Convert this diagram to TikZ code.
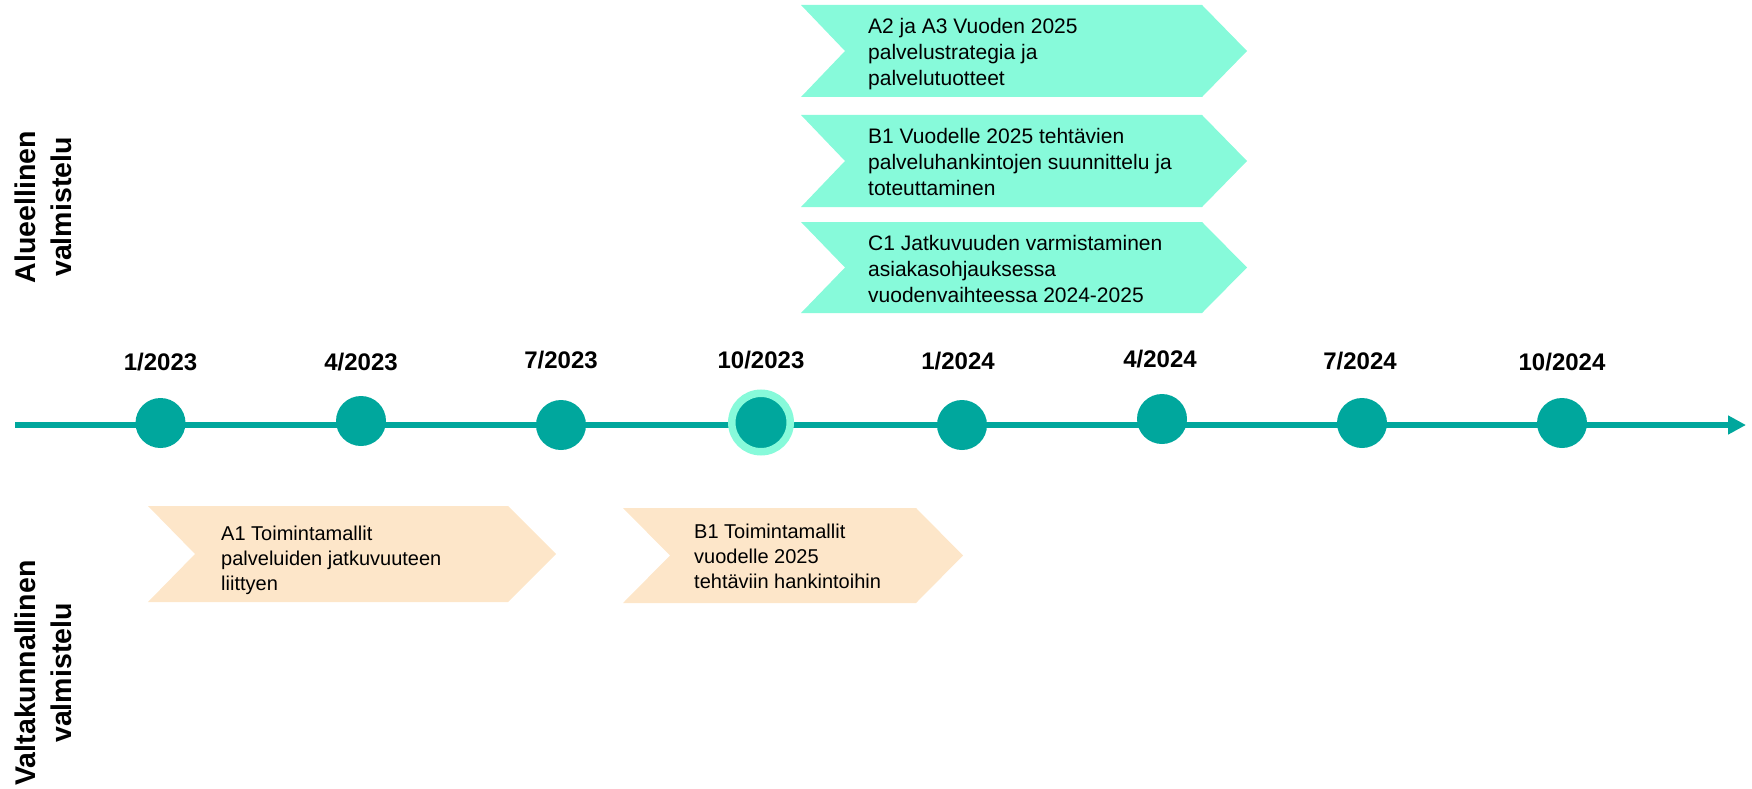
\documentclass[tikz,border=0pt]{standalone}
\usepackage{fontspec}
\setmainfont{Liberation Sans}
\usetikzlibrary{arrows.meta}
\definecolor{tlTeal}{RGB}{0,167,157}
\definecolor{tlMint}{RGB}{135,250,218}
\definecolor{tlPeach}{RGB}{253,230,201}
\newcommand\txtlines[1]{\parbox[t]{420pt}{\raggedright #1}}
\tikzset{
  timeline/.style={draw=tlTeal, line width=6pt, -{Triangle[length=18pt,width=18pt]}},
  dot/.style={circle, fill=tlTeal, minimum size=50pt, inner sep=0pt},
  ringdot/.style={circle, fill=tlTeal, draw=tlMint, line width=7.5pt, minimum size=58.5pt, inner sep=0pt},
  date/.style={font=\bfseries\fontsize{24}{28}\selectfont, anchor=base, inner sep=0pt},
  sidelabel/.style={font=\bfseries\fontsize{28.5}{36}\selectfont, rotate=90, align=center, inner sep=0pt, anchor=center},
  mintchev/.style={fill=tlMint},
  peachchev/.style={fill=tlPeach},
  toptext/.style={font=\fontsize{21}{26}\selectfont, anchor=base west, inner sep=0pt},
  bottext/.style={font=\fontsize{20}{25}\selectfont, anchor=base west, inner sep=0pt},
}
\begin{document}
\begin{tikzpicture}[x=1pt, y=-1pt]
\useasboundingbox (0,0) rectangle (1752,789);

% side labels
\node[sidelabel] (alue) at (43,207) {Alueellinen\\valmistelu};
\node[sidelabel] (valta) at (43,673) {Valtakunnallinen\\valmistelu};

% top chevrons (mint)
\fill[mintchev] (801,5) -- (1202,5) -- (1247,51) -- (1202,97) -- (801,97) -- (845,51) -- cycle;
\fill[mintchev] (801,115) -- (1202,115) -- (1247,161) -- (1202,207) -- (801,207) -- (845,161) -- cycle;
\fill[mintchev] (801,222) -- (1202,222) -- (1247,267.5) -- (1202,313) -- (801,313) -- (845,267.5) -- cycle;
\node[toptext] (t1) at (868,33.5) {\txtlines{A2 ja A3 Vuoden 2025\\palvelustrategia ja\\palvelutuotteet}};
\node[toptext] (t2) at (868,143) {\txtlines{B1 Vuodelle 2025 tehtävien\\palveluhankintojen suunnittelu ja\\toteuttaminen}};
\node[toptext] (t3) at (868,250) {\txtlines{C1 Jatkuvuuden varmistaminen\\asiakasohjauksessa\\vuodenvaihteessa 2024-2025}};

% bottom chevrons (peach)
\fill[peachchev] (148,506) -- (508,506) -- (556,554) -- (508,602) -- (148,602) -- (195,554) -- cycle;
\fill[peachchev] (623,508) -- (916,508) -- (963,555.5) -- (916,603) -- (623,603) -- (670,555.5) -- cycle;
\node[bottext] (b1) at (221,540) {\txtlines{A1 Toimintamallit\\palveluiden jatkuvuuteen\\liittyen}};
\node[bottext] (b2) at (694,538.5) {\txtlines{B1 Toimintamallit\\vuodelle 2025\\tehtäviin hankintoihin}};

% timeline
\coordinate (tstart) at (15,425);
\coordinate (tend) at (1746,425);
\draw[timeline] (tstart) -- (tend);

\node[dot] (c1) at (160.5,423) {};
\node[dot] (c2) at (361,421) {};
\node[dot] (c3) at (561,425) {};
\node[ringdot] (c4) at (761,422.5) {};
\node[dot] (c5) at (962,425) {};
\node[dot] (c6) at (1162,419) {};
\node[dot] (c7) at (1362,423) {};
\node[dot] (c8) at (1562,423) {};

\node[date] (d1) at (160.5,370.5) {1/2023};
\node[date] (d2) at (361,370) {4/2023};
\node[date] (d3) at (561,368.5) {7/2023};
\node[date] (d4) at (761,368.5) {10/2023};
\node[date] (d5) at (958,369.5) {1/2024};
\node[date] (d6) at (1160,367.5) {4/2024};
\node[date] (d7) at (1360,369) {7/2024};
\node[date] (d8) at (1562,370) {10/2024};
\end{tikzpicture}
\end{document}
